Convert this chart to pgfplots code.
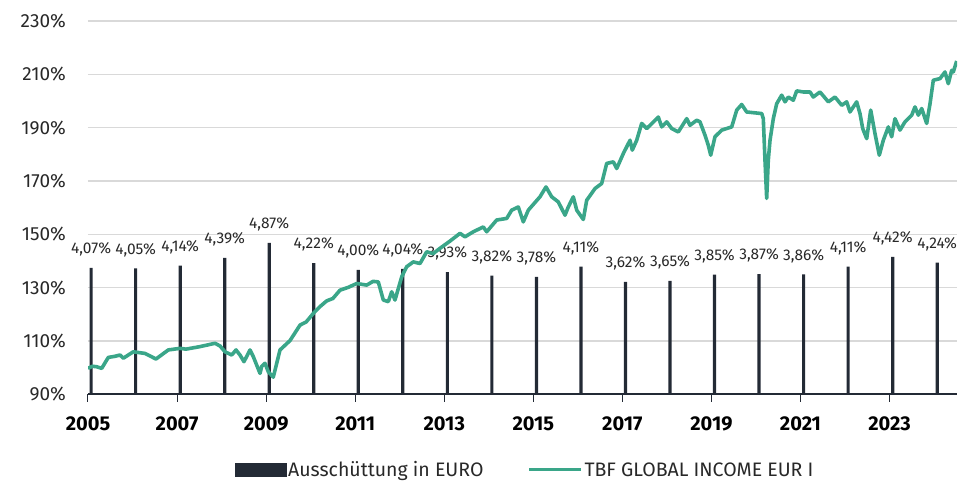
\documentclass[border=0pt]{standalone}
\usepackage{fontspec}
\setmainfont{Fira Sans}
\usepackage{pgfplots}
\pgfplotsset{compat=1.18}
\definecolor{fundteal}{RGB}{58,166,137}
\definecolor{bardark}{RGB}{35,42,53}
\definecolor{gridgray}{RGB}{217,217,217}
\definecolor{txt}{RGB}{40,40,40}
\begin{document}
\begin{tikzpicture}
\useasboundingbox (-88pt,-86.5pt) rectangle (872pt,394.5pt);
\pgfplotsset{every axis/.append style={width=869pt,height=373.5pt,scale only axis,xmin=2005,xmax=2024.515}}
% axis with grid, ticks, legend
\begin{axis}[
  ymin=90,ymax=230,
  ytick={90,110,130,150,170,190,210,230},
  yticklabels={90\%,110\%,130\%,150\%,170\%,190\%,210\%,230\%},
  ymajorgrids, grid style={gridgray,line width=1.3pt},
  axis x line*=bottom, axis y line*=left,
  y axis line style={draw=none}, ytick style={draw=none},
  x axis line style={bardark,line width=2pt},
  xtick={2005,2007,2009,2011,2013,2015,2017,2019,2021,2023},
  xticklabels={2005,2007,2009,2011,2013,2015,2017,2019,2021,2023},
  xtick style={bardark,line width=1pt},
  tick align=outside, major tick length=7pt,
  yticklabel style={font=\fontsize{19}{19}\selectfont,text=txt,inner sep=0pt,xshift=-15pt},
  xticklabel style={font=\bfseries\fontsize{20}{20}\selectfont,text=black,inner sep=0pt,yshift=-15pt},
  legend style={at={(0.503,-0.202)},anchor=center,draw=none,fill=none,legend columns=2,
    font=\fontsize{19.5}{19.5}\selectfont,text=txt,
    /tikz/every even column/.append style={column sep=42pt}},
  legend cell align=left,
]
\addlegendimage{legend image code/.code={\fill[bardark] (0pt,-6.5pt) rectangle (51pt,6.5pt);}}
\addlegendentry{Ausschüttung in EURO}
\addlegendimage{legend image code/.code={\draw[fundteal,line width=3pt] (0pt,0pt) -- (52pt,0pt);}}
\addlegendentry{TBF GLOBAL INCOME EUR I}
\end{axis}
% bars
\begin{axis}[hide axis, ymin=0, ymax=12, clip=false]
\addplot[ybar, bar width=3.2pt, fill=bardark, draw=none,
  nodes near coords, point meta=explicit symbolic,
  nodes near coords style={font=\fontsize{15.5}{15.5}\selectfont,text=txt,anchor=south,inner sep=0pt,yshift=11.5pt}]
coordinates {
(2005.07,4.07) [4,07\%]
(2006.07,4.05) [4,05\%]
(2007.07,4.14) [4,14\%]
(2008.07,4.39) [4,39\%]
(2009.07,4.87) [4,87\%]
(2010.07,4.22) [4,22\%]
(2011.07,4.00) [4,00\%]
(2012.07,4.04) [4,04\%]
(2013.07,3.93) [3,93\%]
(2014.07,3.82) [3,82\%]
(2015.07,3.78) [3,78\%]
(2016.07,4.11) [4,11\%]
(2017.07,3.62) [3,62\%]
(2018.07,3.65) [3,65\%]
(2019.07,3.85) [3,85\%]
(2020.07,3.87) [3,87\%]
(2021.07,3.86) [3,86\%]
(2022.07,4.11) [4,11\%]
(2023.07,4.42) [4,42\%]
(2024.07,4.24) [4,24\%]
};
\end{axis}
% fund line
\begin{axis}[hide axis, ymin=90, ymax=230]
\addplot[fundteal, line width=3.6pt, line join=round] coordinates {
(2005.00,99.8) (2005.10,100.6) (2005.195,100.4) (2005.308,99.8) (2005.456,103.9) (2005.60,104.3) (2005.719,104.8)
(2005.793,103.6) (2006.017,106.0) (2006.280,105.4) (2006.527,103.3) (2006.803,106.7)
(2007.066,107.3) (2007.20,107.0) (2007.365,107.5) (2007.50,107.9) (2007.666,108.5) (2007.852,109.2) (2007.964,108.2)
(2008.077,106.0) (2008.227,104.8) (2008.324,106.7) (2008.413,104.8) (2008.503,102.3)
(2008.638,106.7) (2008.712,104.2) (2008.863,97.9) (2008.90,100.5) (2008.975,101.7) (2009.049,98.5)
(2009.161,96.5) (2009.312,106.7) (2009.536,110.2) (2009.761,116.0) (2009.90,117.2) (2010.060,120.4)
(2010.20,122.8) (2010.361,125.1) (2010.50,126.0) (2010.659,129.1) (2010.85,130.2) (2011.034,131.6) (2011.259,131.0) (2011.40,132.4) (2011.519,132.2)
(2011.632,125.4) (2011.744,124.8) (2011.820,128.5) (2011.894,125.4) (2012.045,134.1)
(2012.157,137.9) (2012.305,139.7) (2012.456,139.1) (2012.606,143.5) (2012.75,142.8) (2012.905,144.8)
(2013.129,147.5) (2013.354,150.4) (2013.466,149.1) (2013.653,151.0) (2013.877,152.8)
(2013.953,151.0) (2014.178,155.4) (2014.403,156.0) (2014.515,159.1) (2014.663,160.3)
(2014.775,154.7) (2014.888,159.1) (2015.150,164.1) (2015.285,167.8) (2015.413,164.1)
(2015.561,162.2) (2015.712,157.2) (2015.786,160.3) (2015.898,164.1) (2015.975,159.1)
(2016.123,155.6) (2016.199,162.8) (2016.386,167.2) (2016.536,169.1) (2016.648,176.6)
(2016.797,177.2) (2016.873,174.7) (2017.021,180.3) (2017.172,185.3) (2017.223,181.6)
(2017.322,185.3) (2017.434,191.6) (2017.547,189.7) (2017.621,190.9) (2017.807,194.0)
(2017.884,190.3) (2017.996,192.2) (2018.108,189.7) (2018.256,188.4) (2018.445,193.4)
(2018.519,190.9) (2018.669,192.8) (2018.743,192.2) (2018.856,187.2) (2018.930,183.4)
(2018.984,179.7) (2019.080,186.6) (2019.231,189.1) (2019.343,189.7) (2019.456,190.3)
(2019.568,196.6) (2019.680,198.7) (2019.792,195.9) (2020.017,195.5) (2020.130,195.3)
(2020.165,193.4) (2020.203,177.8) (2020.241,163.5) (2020.277,177.8) (2020.316,185.3)
(2020.390,193.4) (2020.466,199.0) (2020.578,202.2) (2020.653,199.7) (2020.727,201.5)
(2020.839,200.3) (2020.915,203.8) (2021.063,203.4) (2021.214,203.4) (2021.288,201.5)
(2021.438,203.4) (2021.625,199.7) (2021.775,201.5) (2021.926,198.4) (2022.038,199.7)
(2022.112,195.9) (2022.262,199.7) (2022.336,195.3) (2022.397,189.7) (2022.487,185.9)
(2022.577,196.6) (2022.673,187.8) (2022.770,179.7) (2022.860,185.3) (2022.972,190.3)
(2023.048,186.6) (2023.122,193.4) (2023.235,189.1) (2023.347,192.2) (2023.498,194.7)
(2023.572,197.8) (2023.646,194.7) (2023.722,197.2) (2023.834,191.6) (2023.909,199.0)
(2023.983,207.8) (2024.133,208.4) (2024.245,210.9) (2024.319,206.5) (2024.396,211.5)
(2024.432,210.9) (2024.508,215.0)
};
\end{axis}
\end{tikzpicture}
\end{document}
